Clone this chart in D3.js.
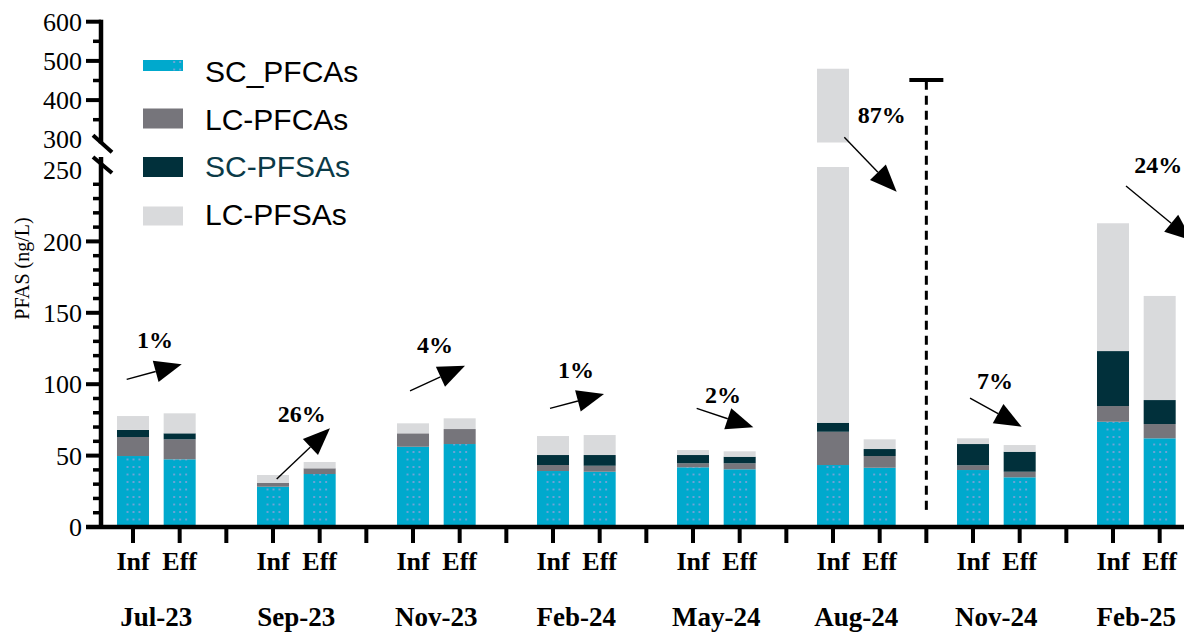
<!DOCTYPE html>
<html><head><meta charset="utf-8">
<script src="https://cdn.jsdelivr.net/npm/d3@7"></script>
<style>html,body{margin:0;padding:0;background:#fff;} svg{display:block}</style>
</head><body><svg id="c" width="1184" height="632"></svg>
<script>
// ---------- DATA ----------
const months = ["Jul-23","Sep-23","Nov-23","Feb-24","May-24","Aug-24","Nov-24","Feb-25"];
const samples = ["Inf","Eff"];
const seriesNames = ["SC_PFCAs","LC-PFCAs","SC-PFSAs","LC-PFSAs"];
// one value per bar: Jul-23 Inf, Jul-23 Eff, Sep-23 Inf, Sep-23 Eff, ...
const scPFCAs = [49.7,47.4, 28.2,37.1, 56.2,58.1, 39.2,38.7, 41.8,40.4, 43.4,41.5, 39.9,34.8, 73.7,62.1];
const lcPFCAs = [13.3,14.0, 2.8,4.0, 9.4,10.5, 4.2,4.2, 2.8,4.2, 23.3,8.2, 3.3,3.9, 11.0,10.0];
const scPFSAs = [5.0,4.2, 0,0, 0,0, 7.0,7.5, 5.8,4.6, 6.3,4.9, 14.9,14.0, 38.5,16.8];
const lcPFSAs = [9.7,14.0, 5.4,4.4, 7.0,7.5, 13.3,14.0, 3.5,3.8, 407,6.8, 4.0,4.7, 89.5,72.9];
const lowerMajorTicks = [0,50,100,150,200];
const lowerLabels = [0,50,100,150,200,250];
const upperMajorTicks = [400,500,600];
const upperMinorTicks = [350,450,550];
const upperLabels = [300,400,500,600];
const changeLabels = ["1%","26%","4%","1%","2%","87%","7%","24%"];
// annotation anchors in (slot index, value) units
const arrowFrom = [[-0.135,103.4],[3.079,33.6],[5.936,95.4],[8.936,83.1],[12.079,83.1],[15.242,305.1],[17.936,90.3],[21.279,238.8]];
const arrowTo   = [[1.044,113.9],[4.221,69.1],[7.114,113.0],[10.093,93.1],[13.293,69.8],[16.364,234.8],[19.043,70.2],[22.693,200.7]];
const labelAt   = [[0.47,125.3],[3.615,73.7],[6.471,121.8],[9.493,104.3],[12.643,86.8],[16.043,341.6],[18.471,96.6],[21.97,247.7]];
const dividerSlot = 17, dividerFrom = 12, dividerTo = 451;

// ---------- STYLE ----------
const colors = ["#00a9cd","#76757b","#01303b","#d9dadc"];
const serif = "'Liberation Serif','Times New Roman',serif";
const sans = "'Liberation Sans',Arial,sans-serif";

const svg = d3.select("#c");
const defs = svg.append("defs");

// slots: Inf, Eff, gap for each month
const slots = [];
months.forEach(m => { slots.push(m+"|Inf", m+"|Eff", m+"|gap"); });
const x = d3.scaleBand().domain(slots).range([109.67, 109.67 + 46.667*slots.length])
  .paddingInner(0.314).paddingOuter(0.157);
const sx = s => x.range()[0] + x.step()*(s + 0.5);
const y = d3.scaleLinear().domain([0,250,300,600]).range([527,170,139.3,21.7]);

// dotted pattern for SC_PFCAs
const pat = defs.append("pattern").attr("id","dots").attr("patternUnits","userSpaceOnUse")
  .attr("x", x.range()[0]).attr("y", 515.75).attr("width", x.step()).attr("height", 7.5);
pat.append("rect").attr("width", x.step()).attr("height", 7.5).attr("fill", colors[0]);
[-5.5, 0.5, 6.5].forEach(dx => {
  pat.append("rect").attr("x", x.step()/2 + dx - 0.8).attr("y", 3.75-0.8)
    .attr("width",1.6).attr("height",1.6).attr("fill","#a3a0dc");
});
const fills = ["url(#dots)", colors[1], colors[2], colors[3]];

defs.append("clipPath").attr("id","clipLow").append("rect").attr("x",0).attr("y",167).attr("width",1184).attr("height",400);
defs.append("clipPath").attr("id","clipUp").append("rect").attr("x",0).attr("y",0).attr("width",1184).attr("height",142.5);

// rows
const rows = [];
months.forEach((m,gi) => samples.forEach((s,si) => {
  const i = gi*2+si;
  rows.push({key: m+"|"+s, "SC_PFCAs": scPFCAs[i], "LC-PFCAs": lcPFCAs[i], "SC-PFSAs": scPFSAs[i], "LC-PFSAs": lcPFSAs[i]});
}));
const stacked = d3.stack().keys(seriesNames)(rows);

["clipLow","clipUp"].forEach(cid => {
  const g = svg.append("g").attr("clip-path", `url(#${cid})`);
  stacked.forEach((layer, li) => {
    g.selectAll(null).data(layer).join("rect")
      .attr("x", d => x(d.data.key))
      .attr("width", x.bandwidth())
      .attr("y", d => y(d[1]))
      .attr("height", d => Math.max(0, y(d[0]) - y(d[1])))
      .attr("fill", fills[li]);
  });
});

// ---------- AXES ----------
const ax = 101;
const axG = svg.append("g").attr("stroke","#000");
axG.append("line").attr("x1",ax).attr("x2",ax).attr("y1",y(0)+2).attr("y2",y(250)-13).attr("stroke-width",4.5);
axG.append("line").attr("x1",ax).attr("x2",ax).attr("y1",y(600)-2).attr("y2",y(300)+4).attr("stroke-width",4.5);
axG.append("line").attr("x1",ax-8).attr("x2",ax+11).attr("y1",y(300)-4).attr("y2",y(300)+13).attr("stroke-width",4);
axG.append("line").attr("x1",ax-8).attr("x2",ax+11).attr("y1",y(250)-13).attr("y2",y(250)+3).attr("stroke-width",4);
lowerMajorTicks.forEach(v => axG.append("line").attr("x1",ax-15).attr("x2",ax).attr("y1",y(v)).attr("y2",y(v)).attr("stroke-width",4));
d3.range(10,250,10).filter(v => v%50 !== 0).forEach(v =>
  axG.append("line").attr("x1",ax-8).attr("x2",ax).attr("y1",y(v)).attr("y2",y(v)).attr("stroke-width",3.5));
upperMajorTicks.forEach(v => axG.append("line").attr("x1",ax-15).attr("x2",ax).attr("y1",y(v)).attr("y2",y(v)).attr("stroke-width",4));
upperMinorTicks.forEach(v => axG.append("line").attr("x1",ax-8).attr("x2",ax).attr("y1",y(v)).attr("y2",y(v)).attr("stroke-width",3.5));

const ylab = svg.append("g").attr("font-family",serif).attr("font-size",26).attr("text-anchor","end").attr("fill","#000");
lowerLabels.concat(upperLabels).forEach(v =>
  ylab.append("text").attr("x",82).attr("y",y(v)).attr("dy","0.35em").text(v));

svg.append("text").attr("transform",`translate(29,${(y(0)+y(250))/2 - 80}) rotate(-90)`)
  .attr("text-anchor","middle").attr("font-family",serif).attr("font-size",20).text("PFAS (ng/L)");

// x axis
axG.append("line").attr("x1",86).attr("x2",1184).attr("y1",y(0)).attr("y2",y(0)).attr("stroke-width",4.5);
slots.forEach(k => axG.append("line").attr("x1",x(k)+x.bandwidth()/2).attr("x2",x(k)+x.bandwidth()/2)
  .attr("y1",y(0)).attr("y2",y(0)+16).attr("stroke-width",4));

const xl = svg.append("g").attr("font-family",serif).attr("font-weight","bold").attr("text-anchor","middle");
rows.forEach(r => {
  xl.append("text").attr("x", x(r.key)+x.bandwidth()/2).attr("y",570).attr("font-size",26).text(r.key.split("|")[1]);
});
months.forEach(m => {
  const cx = (x(m+"|Inf") + x(m+"|Eff") + x.bandwidth())/2;
  xl.append("text").attr("x",cx).attr("y",626).attr("font-size",27).text(m);
});

// ---------- DIVIDER ----------
const dx = sx(dividerSlot);
svg.append("line").attr("x1",dx).attr("x2",dx).attr("y1",y(dividerFrom)).attr("y2",y(dividerTo))
  .attr("stroke","#000").attr("stroke-width",3).attr("stroke-dasharray","9,6");
svg.append("line").attr("x1",dx-17).attr("x2",dx+17).attr("y1",y(dividerTo)).attr("y2",y(dividerTo))
  .attr("stroke","#000").attr("stroke-width",4);

// ---------- ARROWS ----------
const ann = svg.append("g");
changeLabels.forEach((lab, i) => {
  const x1 = sx(arrowFrom[i][0]), y1 = y(arrowFrom[i][1]);
  const x2 = sx(arrowTo[i][0]), y2 = y(arrowTo[i][1]);
  const ang = Math.atan2(y2-y1, x2-x1);
  const L = 27, W = 11;
  const bx = x2 - L*Math.cos(ang), by = y2 - L*Math.sin(ang);
  ann.append("line").attr("x1",x1).attr("y1",y1).attr("x2",bx).attr("y2",by).attr("stroke","#000").attr("stroke-width",1.4);
  const p = [[x2,y2],[bx - W*Math.sin(ang), by + W*Math.cos(ang)],[bx + W*Math.sin(ang), by - W*Math.cos(ang)]];
  ann.append("path").attr("d","M"+p.map(q=>q.join(",")).join("L")+"Z").attr("fill","#000");
  ann.append("text").attr("x",sx(labelAt[i][0])).attr("y",y(labelAt[i][1])).attr("text-anchor","middle")
    .attr("font-family",serif).attr("font-weight","bold").attr("font-size",24).text(lab);
});

// ---------- LEGEND ----------
const legRectY = [60, 108.5, 157, 206.5];
const legRectH = [11, 20, 20, 19];
const legTextY = [81.5, 129.5, 177, 225];
const legTextColor = ["#000","#000","#0b3a47","#000"];
const leg = svg.append("g");
seriesNames.forEach((n,i) => {
  leg.append("rect").attr("x",143).attr("y",legRectY[i]).attr("width",40).attr("height",legRectH[i]).attr("fill",fills[i]);
  leg.append("text").attr("x",205).attr("y",legTextY[i]).attr("font-family",sans).attr("font-size",30)
    .attr("fill",legTextColor[i]).text(n);
});
</script>
</body></html>
